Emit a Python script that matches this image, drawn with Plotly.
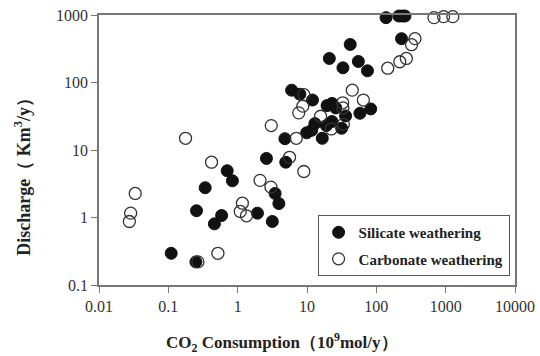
import plotly.graph_objects as go

# Silicate weathering (filled)
sil_x = [138, 211, 237, 259, 231, 42, 21, 55, 33, 74.5, 6.0, 7.9, 12, 19.5, 23, 26, 36, 83, 58,
         13, 9.9, 11.7, 19, 22.9, 16.6, 31.6, 4.8, 2.6, 4.94, 0.706, 0.84, 0.34, 3.47, 3.93, 1.93,
         0.587, 0.462, 0.255, 3.16, 0.11, 0.25]
sil_y = [913, 966, 966, 966, 446, 366, 227, 205, 165, 149, 77, 67, 55, 45.5, 49, 42, 32, 40.6, 35,
         24.6, 18, 19.6, 23, 26.4, 14.9, 21, 14.7, 7.5, 6.6, 4.93, 3.5, 2.76, 2.27, 1.61, 1.16,
         1.07, 0.805, 1.26, 0.873, 0.295, 0.22]

# Carbonate weathering (open)
carb_x = [678, 933, 1270, 361, 322, 271, 218, 146, 45, 65, 32.7, 9, 8.7, 7.6, 15.7, 33, 22.4, 33.5,
          7.0, 5.6, 9.0, 3.05, 0.177, 0.42, 2.1, 3.02, 1.17, 1.09, 1.34, 0.519, 0.267, 0.0333,
          0.0286, 0.0274]
carb_y = [913, 945, 945, 446, 363, 227, 203, 163, 77, 55, 50, 66, 44.6, 35.5, 31.6, 42, 20.5, 24,
          14.9, 7.8, 4.8, 23, 14.9, 6.6, 3.55, 2.82, 1.63, 1.23, 1.06, 0.295, 0.22, 2.27,
          1.16, 0.873]

x_ticks = [0.01, 0.1, 1, 10, 100, 1000, 10000]
x_labels = ["0.01", "0.1", "1", "10", "100", "1000", "10000"]
y_ticks = [0.1, 1, 10, 100, 1000]
y_labels = ["0.1", "1", "10", "100", "1000"]

x_title = "<b>CO<sub>2</sub> Consumption（10<sup>9</sup>mol/y）</b>"
y_title = "<b>Discharge（ Km<sup>3</sup>/y）</b>"

FONT = "Liberation Serif, Times New Roman, serif"

fig = go.Figure()
fig.add_trace(go.Scatter(
    x=sil_x, y=sil_y, mode="markers", name="<b>Silicate weathering</b>",
    legendgroup="a", cliponaxis=False,
    marker=dict(symbol="circle", size=12, color="#111111", line=dict(color="#111111", width=1)),
))
fig.add_trace(go.Scatter(
    x=carb_x, y=carb_y, mode="markers", name="<b>Carbonate weathering</b>",
    legendgroup="b", cliponaxis=False,
    marker=dict(symbol="circle-open", size=12, color="#333333", line=dict(color="#333333", width=1.3)),
))

axis_common = dict(
    type="log", showgrid=False, zeroline=False, automargin=False,
    showline=True, linecolor="#777777", linewidth=1.5, mirror=True,
    ticks="outside", ticklen=6, tickcolor="#777777", tickwidth=1.2,
)

fig.update_layout(
    width=540, height=356,
    margin=dict(l=99, r=25, t=15, b=71),
    paper_bgcolor="white", plot_bgcolor="white",
    showlegend=True,
    legend=dict(
        x=0.987, xanchor="right", y=0.033, yanchor="bottom",
        bordercolor="#555555", borderwidth=1, bgcolor="white",
        font=dict(family=FONT, size=15, color="#222222"),
        tracegroupgap=4, itemwidth=30,
    ),
    xaxis=dict(
        **axis_common, range=[-2, 4], tickvals=x_ticks, ticktext=x_labels,
        tickfont=dict(family=FONT, size=16, color="#333333"),
    ),
    yaxis=dict(
        **axis_common, range=[-1, 3], tickvals=y_ticks, ticktext=y_labels,
        tickfont=dict(family=FONT, size=16, color="#333333"),
    ),
    annotations=[
        dict(text=x_title, xref="paper", yref="paper", x=0.44, y=-0.212,
             xanchor="center", yanchor="middle", showarrow=False,
             font=dict(family=FONT, size=17, color="#222222")),
        dict(text=y_title, xref="paper", yref="paper", x=-0.183, y=0.419,
             xanchor="center", yanchor="middle", showarrow=False, textangle=-90,
             font=dict(family=FONT, size=18, color="#222222")),
    ],
)

fig.write_html(
    "out.html",
    config={"displayModeBar": False},
    post_script="document.body.style.margin='0';document.body.style.overflow='hidden';",
)
